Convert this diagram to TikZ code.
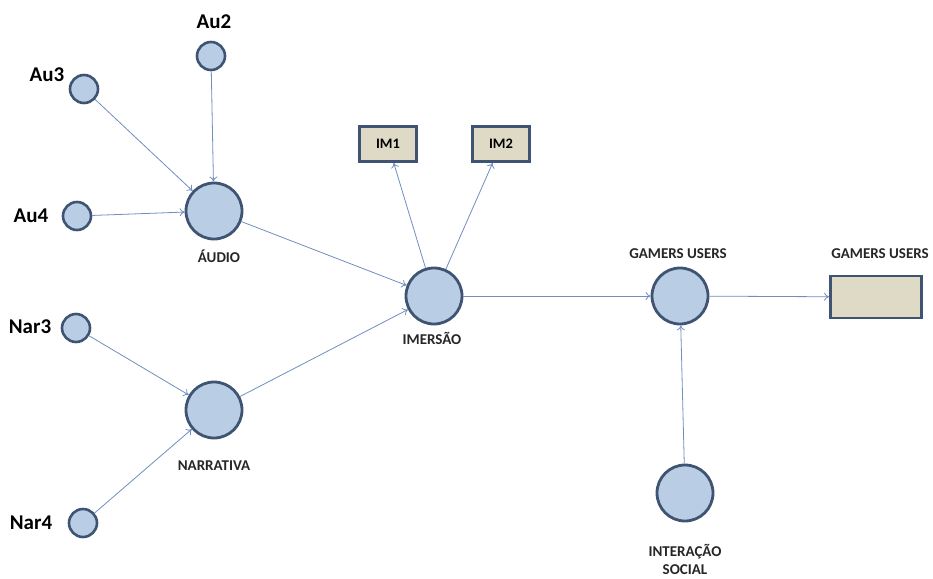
\documentclass[tikz,border=0pt]{standalone}
\usepackage{fontspec}
\setmainfont{Carlito}
\usetikzlibrary{arrows.meta}
\definecolor{cfill}{RGB}{185,205,229}
\definecolor{cline}{RGB}{62,84,114}
\definecolor{bfill}{RGB}{222,218,198}
\definecolor{aline}{RGB}{112,142,190}
\begin{document}
\begin{tikzpicture}[x=1pt,y=-1pt,
  small/.style={circle,draw=cline,fill=cfill,line width=2.6pt,minimum size=28pt,inner sep=0pt},
  big/.style={circle,draw=cline,fill=cfill,line width=2.8pt,minimum size=56pt,inner sep=0pt},
  box/.style={rectangle,draw=cline,fill=bfill,line width=2.8pt,inner sep=0pt,font=\bfseries\fontsize{14.5}{16}\selectfont},
  lbl/.style={font=\bfseries\fontsize{21}{23}\selectfont,text=black},
  slbl/.style={font=\bfseries\fontsize{15}{18}\selectfont,text=black!85,align=center},
  arr/.style={draw=aline,line width=0.8pt,-{To[length=5pt,width=8pt]}}]
\useasboundingbox (0,0) rectangle (933,578);
% nodes
\node[small] (au2) at (211,56) {};
\node[small] (au3) at (84,89) {};
\node[small] (au4) at (77,216) {};
\node[big] (audio) at (214,211) {};
\node[small] (nar3) at (76,328) {};
\node[small] (nar4) at (83,523) {};
\node[big] (narr) at (214,410) {};
\node[big] (imer) at (434,296) {};
\node[box,minimum width=57pt,minimum height=35pt] (im1) at (388,144) {IM1};
\node[box,minimum width=57pt,minimum height=35pt] (im2) at (501,144) {IM2};
\node[big] (gam) at (680,296) {};
\node[box,minimum width=91pt,minimum height=42pt] (gbox) at (876,297) {};
\node[big] (inter) at (685,493) {};
% labels
\node[lbl] (lau2) at (214,22) {Au2};
\node[lbl] (lau3) at (47,75) {Au3};
\node[lbl] (lau4) at (31,216) {Au4};
\node[lbl] (lnar3) at (30,327) {Nar3};
\node[lbl] (lnar4) at (31,523) {Nar4};
\node[slbl] (laudio) at (219,256) {ÁUDIO};
\node[slbl] (lnarr) at (214,466) {NARRATIVA};
\node[slbl] (limer) at (432,338) {IMERSÃO};
\node[slbl] (lgam) at (678,254) {GAMERS USERS};
\node[slbl] (lgbox) at (880,254) {GAMERS USERS};
\node[slbl] (linter) at (685,559) {INTERAÇÃO\\SOCIAL};
% connectors
\draw[arr] (au2) -- (audio);
\draw[arr] (au3) -- (audio);
\draw[arr] (au4) -- (audio);
\draw[arr] (audio) -- (imer);
\draw[arr] (nar3) -- (narr);
\draw[arr] (nar4) -- (narr);
\draw[arr] (narr) -- (imer);
\draw[arr] (imer) -- (im1);
\draw[arr] (imer) -- (im2);
\draw[arr] (imer) -- (gam);
\draw[arr] (gam) -- (gbox);
\draw[arr] (inter) -- (gam);
\end{tikzpicture}
\end{document}
